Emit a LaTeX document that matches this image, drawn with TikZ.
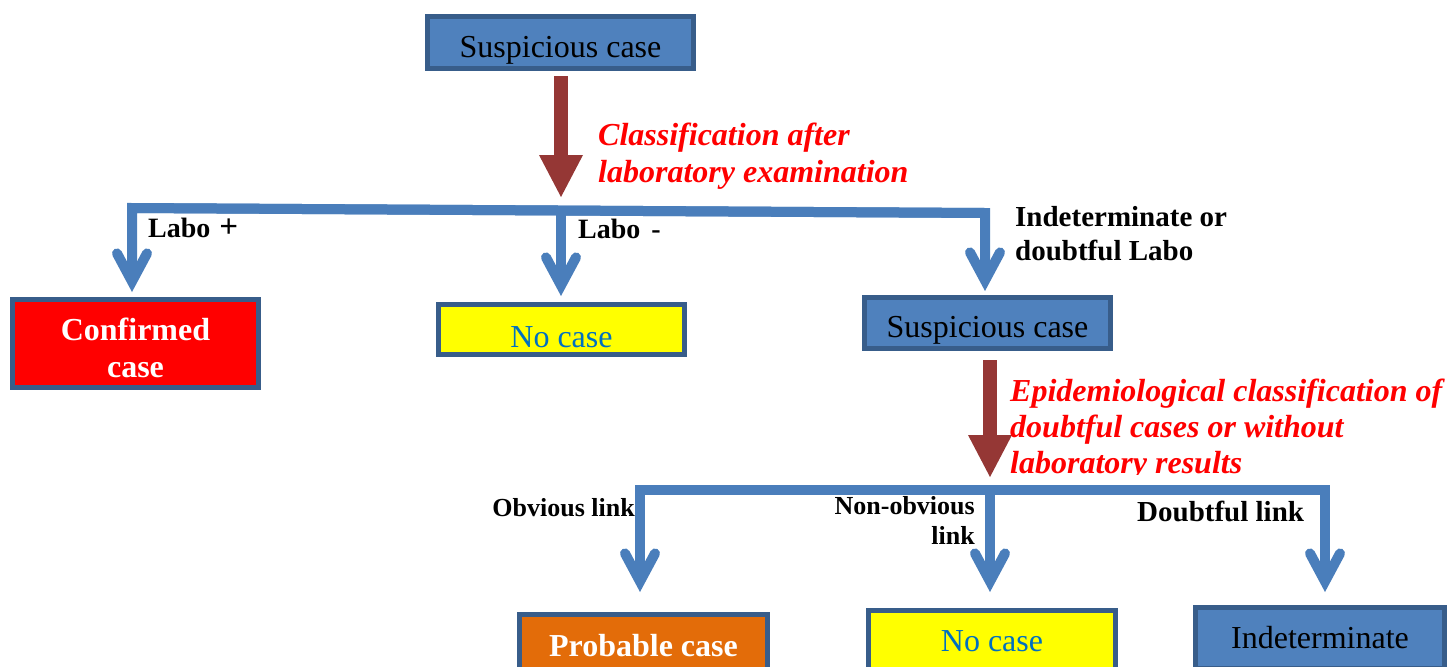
\documentclass[tikz,border=0pt]{standalone}
\usepackage{fontspec}
\setmainfont{Liberation Serif}
\usetikzlibrary{arrows.meta}
\definecolor{boxblue}{RGB}{79,129,189}
\definecolor{bordblue}{RGB}{56,93,138}
\definecolor{lineblue}{RGB}{74,126,187}
\definecolor{brownarr}{RGB}{149,55,53}
\definecolor{orangebox}{RGB}{227,108,9}
\definecolor{nocasetext}{RGB}{0,112,192}
\definecolor{yelbox}{RGB}{255,255,0}
\definecolor{redbox}{RGB}{255,0,0}
\definecolor{redtext}{RGB}{255,0,0}
\newcommand{\lowstrut}[1]{\rule{0pt}{#1}}
\begin{document}
\begin{tikzpicture}[x=1pt,y=-1pt,
  box/.style={draw=bordblue, line width=5pt, inner sep=0pt, align=center, font=\fontsize{32}{37}\selectfont},
  bluebox/.style={box, fill=boxblue, text=black},
  yellowbox/.style={box, fill=yelbox, text=nocasetext},
  confbox/.style={box, fill=redbox, text=white, font=\fontsize{32}{37}\selectfont\bfseries},
  probbox/.style={box, fill=orangebox, text=white, font=\fontsize{32}{37}\selectfont\bfseries},
  flow/.style={draw=lineblue, line width=10pt, line join=miter,
    -{Straight Barb[length=28pt, width=30pt, line cap=round, line join=miter]}},
  bigarrow/.style={draw=brownarr, line width=14pt,
    -{Triangle[length=42pt, width=44pt, line width=0pt]}},
  lab/.style={inner sep=0pt, text=black, font=\fontsize{28}{34}\selectfont\bfseries},
  smalllab/.style={inner sep=0pt, text=black, font=\fontsize{26}{30}\selectfont\bfseries},
  note/.style={inner sep=0pt, text=redtext, align=left, font=\fontsize{32}{37}\selectfont\bfseries\itshape}
]
\useasboundingbox (0,0) rectangle (1452,667);
\begin{scope}
\clip (0,0) rectangle (1452,667);
% boxes
\node[bluebox, minimum width=266pt, minimum height=52pt] (s1) at (560.5,42.5) {\lowstrut{36.5pt}Suspicious case};
\node[confbox, minimum width=246pt, minimum height=88pt] (conf) at (135.5,343.5) {\lowstrut{32pt}Confirmed\\case};
\node[yellowbox, minimum width=246pt, minimum height=50pt] (nc1) at (561.5,329.5) {\lowstrut{36pt}No case};
\node[bluebox, minimum width=246pt, minimum height=51pt] (s2) at (987.5,323) {\lowstrut{36.5pt}Suspicious case};
\node[probbox, minimum width=248pt, minimum height=63pt] (prob) at (643.5,646) {Probable case};
\node[yellowbox, minimum width=247pt, minimum height=61pt] (nc2) at (992,641) {No case};
\node[bluebox, minimum width=249pt, minimum height=61pt] (ind) at (1320,638) {Indeterminate};
% bar coordinates
\coordinate (b1L) at (132,208);
\coordinate (b1M) at (561,210);
\coordinate (b1R) at (985,213);
\coordinate (b2L) at (640,490);
\coordinate (b2M) at (990,490);
\coordinate (b2R) at (1325,490);
% brown arrows
\draw[bigarrow, shorten <=5pt, shorten >=13pt] (s1.south -| b1M) -- (b1M);
\draw[bigarrow, shorten <=9pt, shorten >=13pt] (s2.south -| b2M) -- (b2M);
% first level connectors
\draw[flow, shorten >=5pt] (b1R) -- (b1L) -- (b1L |- conf.north);
\draw[flow, shorten >=6pt] (b1M) -- (b1M |- nc1.north);
\draw[flow, shorten >=4pt] (b1L) -- (b1R) -- (b1R |- s2.north);
% second level connectors
\draw[flow, shorten >=20pt] (b2R) -- (b2L) -- (b2L |- prob.north);
\draw[flow, shorten >=16pt] (b2M) -- (b2M |- nc2.north);
\draw[flow, shorten >=13pt] (b2L) -- (b2R) -- (b2R |- ind.north);
% labels
\node[lab, anchor=base west] (l1) at (148,237) {Labo\hspace{9pt}{\fontsize{33}{34}\selectfont +}};
\node[lab, anchor=base west] (l2) at (578,238) {Labo\hspace{11pt}-};
\node[lab, anchor=north west, align=left, font=\fontsize{29}{34}\selectfont\bfseries] (l3) at (1015,206) {Indeterminate or\\doubtful Labo};
\node[smalllab, anchor=base east] (l4) at (635,516) {Obvious link};
\node[smalllab, anchor=north east, align=right] (l5) at (975,496) {Non-obvious\\link};
\node[lab, anchor=base west, font=\fontsize{29}{34}\selectfont\bfseries] (l6) at (1137,521) {Doubtful link};
\node[note, anchor=north west] (n1) at (598,123) {Classification after\\laboratory examination};
\begin{scope}
\clip (1000,370) rectangle (1452,474);
\node[note, anchor=north west, font=\fontsize{32}{36}\selectfont\bfseries\itshape] (n2) at (1010,379) {Epidemiological classification of\\doubtful cases or without\\laboratory results};
\end{scope}
\end{scope}
\end{tikzpicture}
\end{document}
